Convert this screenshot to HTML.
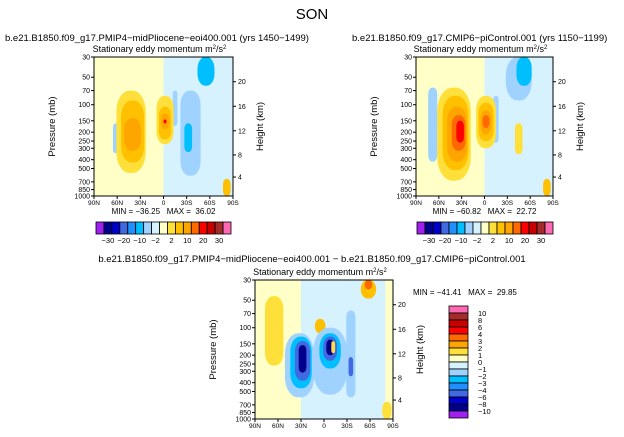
<!DOCTYPE html>
<html><head><meta charset="utf-8"><style>
body{margin:0;background:#fff;width:624px;height:437px;overflow:hidden}
svg{display:block;font-family:"Liberation Sans",sans-serif}
text{fill:#000}
</style></head><body>
<svg id="s" width="624" height="437" viewBox="0 0 624 437"></svg>
<script>
const palette=["#a020f0","#00008b","#0000cd","#4169e1","#1e90ff","#00bfff","#a0d2ff","#d6f2ff","#ffffc8","#ffe03a","#ffc000","#ffa500","#ff6a00","#ff0000","#c80000","#a52a2a","#ff69b4"];
const barLabels=["-30","-20","-10","-2","2","10","20","30"];
const diffLabels=["10","8","6","4","3","2","1","0","-1","-2","-3","-4","-6","-8","-10"];
const pTicks=[30,50,70,100,150,200,250,300,400,500,700,850,1000];
const hTicks=[4,8,12,16,20];
const hTickP=[620,355,193,104,56];
const latTicks=["90N","60N","30N","0","30S","60S","90S"];
// blobs: [lat center, pTop, pBottom, lat half-width (deg), palette class, square?]
const blobs1=[[-45,30,1000,45,7,1],[-10,30,90,8,7,1],[-35,70,600,13,6],[-55,30,62,11,5],[-32,160,330,5,5],[62,160,340,3.5,6],[-15,70,170,3,6],
 [42,70,560,19,9],[40,90,430,15,10],[40,140,320,11,11],[-2,80,270,11,9],[-2,105,240,8,10],[-2,125,185,5,11],[-2,145,160,2,13],[-82,650,1000,5,10]];
const blobs2=[[-45,30,1000,45,7,1],[-45,30,90,17,6],[-52,30,62,10,5],[68,65,420,6,6],[-15,80,260,3.5,6],
 [40,65,680,22,9],[38,80,520,17,10],[36,105,420,13,11],[34,130,320,9,12],[32,150,260,5,13],[-2,80,300,13,9],[-2,95,250,10,10],[-2,115,210,7,11],[-2,130,180,4.5,12],[-45,160,350,5,9],[-82,650,1000,5,10]];
const blobs3=[[-25,30,1000,55,7,1],[65,45,260,12,9],[-58,30,48,10,10],[-58,30,38,5,12],[5,80,115,7,10],
 [32,115,580,19,6],[30,125,460,14,5],[28,140,380,10,3],[28,155,310,5,1],[-8,100,540,22,6],[-8,115,280,14,5],[-8,125,230,9,3],[-8,135,200,5,1],[-35,65,580,6,6],[-35,210,340,3,3],[-12,140,190,2.5,9],[-82,650,1000,6,9]];

const S=document.getElementById('s');
const NS="http://www.w3.org/2000/svg";
function el(t,a,p){const e=document.createElementNS(NS,t);for(const k in a)e.setAttribute(k,a[k]);(p||S).appendChild(e);return e;}
function txt(x,y,s,sz,anchor,p,rot){const e=el('text',{x:x,y:y,'font-size':sz,'text-anchor':anchor||'start'},p);if(rot)e.setAttribute('transform',`rotate(${rot} ${x} ${y})`);e.textContent=s;return e;}

function panel(name,x0,y0,w,h,blobs,titleX,title,minmax){
  const g=el('g',{});
  
  
  const X=lat=>x0+(90-lat)/180*w;
  const Y=p=>y0+Math.log(p/30)/Math.log(1000/30)*h;
  const cid='c'+name;
  const cp=el('clipPath',{id:cid},g);el('rect',{x:x0,y:y0,width:w,height:h},cp);
  const pg=el('g',{'clip-path':`url(#${cid})`},g);
  el('rect',{x:x0,y:y0,width:w,height:h,fill:palette[8]},pg);
  blobs.forEach(b=>{
    const cx=X(b[0]),y1=Y(b[1]),y2=Y(b[2]),rx=b[3]/180*w;
    const sq=b[5]?0:1;
    const e=el('rect',{x:cx-rx,y:y1,width:2*rx,height:y2-y1,rx:sq*rx*0.9,ry:sq*Math.min((y2-y1)/2,rx*1.4),fill:palette[b[4]]},pg);
    
    
  });
  el('rect',{x:x0,y:y0,width:w,height:h,fill:'none',stroke:'#000','stroke-width':1},g);
  pTicks.forEach(p=>{const y=Y(p);el('line',{x1:x0-3,y1:y,x2:x0,y2:y,stroke:'#000'},g);txt(x0-4,y+2.5,String(p),7,'end',g);});
  hTicks.forEach((k,i)=>{const y=Y(hTickP[i]);el('line',{x1:x0+w,y1:y,x2:x0+w+3,y2:y,stroke:'#000'},g);txt(x0+w+5,y+2.5,String(k),7,'start',g);});
  latTicks.forEach((l,i)=>{const x=x0+i*w/6;el('line',{x1:x,y1:y0+h,x2:x,y2:y0+h+3,stroke:'#000'},g);txt(x,y0+h+9,l,6.5,'middle',g);});
  txt(x0-39,y0+h/2,'Pressure (mb)',9.5,'middle',g,-90);
  txt(x0+w+30,y0+h/2,'Height (km)',9.5,'middle',g,-90);
  const st=txt(x0+w/2-4,y0-5,'Stationary eddy momentum  m',9,'middle',g);
  const sup=el('tspan',{dy:-3,'font-size':6},st);sup.textContent='2';
  const t2=el('tspan',{dy:3},st);t2.textContent='/s';
  const sup2=el('tspan',{dy:-3,'font-size':6},st);sup2.textContent='2';
  if(title){const t=txt(titleX,41,title,9.5,'start',g);}
  if(minmax){const m=txt(x0+w/2,y0+h+18,minmax,8,'middle',g);m.setAttribute('xml:space','preserve');m.style.whiteSpace='pre';}
  return g;
}
function hbar(x0,y0,w,h,name){
  const g=el('g',{});
  const bw=w/palette.length;
  palette.forEach((c,i)=>el('rect',{x:x0+i*bw,y:y0,width:bw,height:h,fill:c,stroke:'#000','stroke-width':0.8},g));
  barLabels.forEach((l,i)=>{const k=[1,3,5,7,9,11,13,15][i];txt(x0+k*bw+bw/2,y0+h+9,l.replace('-','−'),7.5,'middle',g);});
}
function vbar(x0,y0,w,h,name){
  const g=el('g',{});
  const order=["#ff69b4","#a52a2a","#c80000","#ff0000","#ff6a00","#ffa500","#ffe03a","#ffffc8","#d6f2ff","#a0d2ff","#00bfff","#1e90ff","#4169e1","#0000cd","#00008b","#a020f0"];
  const bh=h/order.length;
  order.forEach((c,i)=>el('rect',{x:x0,y:y0+i*bh,width:w,height:bh,fill:c,stroke:'#000','stroke-width':0.8},g));
  diffLabels.forEach((l,i)=>txt(x0+w+10,y0+(i+1)*bh+3,l.replace('-','−'),7.5,'start',g));
}
const t=txt(312,19,'SON',15,'middle');
panel('panel-pliocene',94,57,139,139,blobs1,5,'b.e21.B1850.f09_g17.PMIP4−midPliocene−eoi400.001 (yrs 1450−1499)','MIN = −36.25   MAX =  36.02');
panel('panel-picontrol',416,57,137,139,blobs2,352,'b.e21.B1850.f09_g17.CMIP6−piControl.001 (yrs 1150−1199)','MIN = −60.82   MAX =  22.72');
hbar(96,222,135,12,'colorbar-pliocene');
hbar(417,222,136,12,'colorbar-picontrol');
panel('panel-difference',255,280,138,139,blobs3,0,null,null);
const dt=txt(312,262,'b.e21.B1850.f09_g17.PMIP4−midPliocene−eoi400.001 − b.e21.B1850.f09_g17.CMIP6−piControl.001',9.5,'middle');
const mm=txt(413,295,'MIN = −41.41   MAX =  29.85',8,'start');mm.style.whiteSpace='pre';
vbar(449,306,19,112,'colorbar-difference');
</script>
</body></html>
